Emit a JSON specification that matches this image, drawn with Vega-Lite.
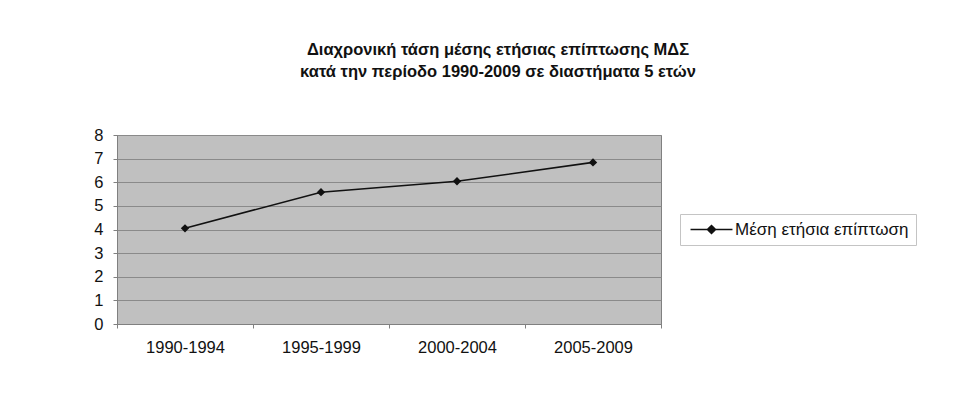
{
  "$schema": "https://vega.github.io/schema/vega-lite/v6.json",
  "width": 544,
  "height": 189,
  "autosize": {"type": "none"},
  "padding": {"left": 117, "top": 135, "right": 316, "bottom": 76},
  "background": "white",
  "title": {
    "text": ["Διαχρονική τάση μέσης ετήσιας επίπτωσης ΜΔΣ", "κατά την περίοδο 1990-2009 σε διαστήματα 5 ετών"],
    "anchor": "middle",
    "dx": 109,
    "offset": 47,
    "font": "Liberation Sans",
    "fontSize": 16.5,
    "fontWeight": "bold",
    "lineHeight": 22,
    "color": "#111"
  },
  "data": {
    "values": [
      {"period": "1990-1994", "series": "Μέση ετήσια επίπτωση", "value": 4.05},
      {"period": "1995-1999", "series": "Μέση ετήσια επίπτωση", "value": 5.58},
      {"period": "2000-2004", "series": "Μέση ετήσια επίπτωση", "value": 6.04},
      {"period": "2005-2009", "series": "Μέση ετήσια επίπτωση", "value": 6.84}
    ]
  },
  "encoding": {
    "x": {
      "field": "period",
      "type": "ordinal",
      "sort": null,
      "scale": {"type": "band", "paddingInner": 0, "paddingOuter": 0},
      "axis": {
        "title": null,
        "labelAngle": 0,
        "labelFont": "Liberation Sans",
        "labelFontSize": 16.5,
        "labelColor": "#111",
        "labelPadding": 11,
        "tickBand": "extent",
        "tickSize": 4,
        "tickColor": "#808080",
        "domainColor": "#808080",
        "grid": false
      }
    },
    "y": {
      "field": "value",
      "type": "quantitative",
      "scale": {"domain": [0, 8], "nice": false},
      "axis": {
        "title": null,
        "values": [0, 1, 2, 3, 4, 5, 6, 7, 8],
        "labelFont": "Liberation Sans",
        "labelFontSize": 16.5,
        "labelColor": "#111",
        "labelPadding": 10,
        "tickSize": 4,
        "tickColor": "#808080",
        "domainColor": "#808080",
        "grid": true,
        "gridColor": "#8a8a8a",
        "gridWidth": 1
      }
    },
    "color": {
      "field": "series",
      "type": "nominal",
      "scale": {"range": ["#111111"]},
      "legend": {
        "title": null,
        "orient": "none",
        "legendX": 563,
        "legendY": 79,
        "padding": 7,
        "strokeColor": "#c4c4c4",
        "fillColor": "white",
        "symbolType": "M-4,0H4M-0.8,0L0,-0.8L0.8,0L0,0.8Z",
        "symbolSize": 110,
        "symbolOffset": 16,
        "symbolStrokeWidth": 1.3,
        "symbolFillColor": "#111111",
        "symbolStrokeColor": "#111111",
        "labelFont": "Liberation Sans",
        "labelFontSize": 17,
        "labelColor": "#111",
        "labelOffset": 15,
        "labelLimit": 400
      }
    }
  },
  "layer": [
    {"mark": {"type": "line", "strokeWidth": 1.6}},
    {"mark": {"type": "point", "shape": "diamond", "filled": true, "size": 70, "opacity": 1}}
  ],
  "config": {
    "view": {"fill": "#c0c0c0", "stroke": "#808080", "strokeWidth": 1}
  }
}
